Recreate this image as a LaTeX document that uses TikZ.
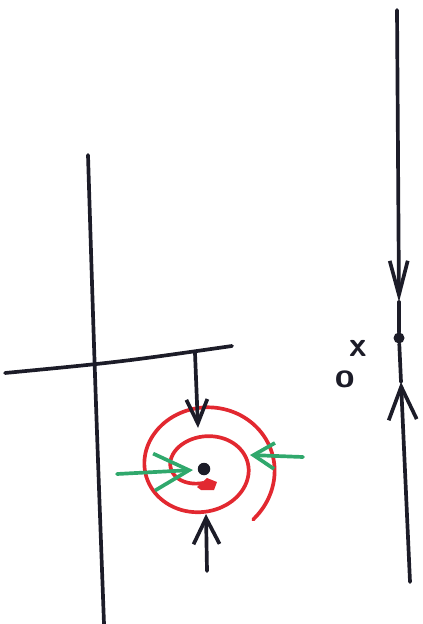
\documentclass[tikz,border=0pt]{standalone}
\usepackage{tikz}
\usetikzlibrary{arrows.meta}

\definecolor{penblack}{RGB}{28,28,40}
\definecolor{penred}{RGB}{226,40,48}
\definecolor{pengreen}{RGB}{48,168,108}

\begin{document}
\begin{tikzpicture}[x=0.02cm,y=-0.02cm,
    pen/.style={line width=2.1pt,line cap=round,line join=round,draw=penblack},
    redpen/.style={line width=2.1pt,line cap=round,draw=penred},
    greenpen/.style={line width=2.1pt,line cap=round,draw=pengreen},
    dot/.style={circle,fill=penblack,inner sep=0pt,minimum size=0.25cm},
    glyph/.style={text=penblack,font=\sffamily\bfseries\fontsize{20}{20}\selectfont,inner sep=0pt}]
  \useasboundingbox (0,0) rectangle (422,624);
  % axes of the phase plane, and the line of the 1D picture
  \coordinate (vtop) at (88,155);
  \coordinate (vbot) at (104,624);
  \coordinate (hleft) at (5,373);
  \coordinate (hright) at (232,346);
  \draw[pen] (vtop) .. controls (95,380) .. (vbot);
  \draw[pen] (hleft) .. controls (120,362) .. (hright);
  % spiral sink
  \draw[redpen] plot[domain=0:678,samples=160,smooth,variable=\s]
    ({203+(26+\s/360*26)*cos(270-\s)},{467-(16+\s/360*29)*sin(270-\s)});
  \fill[penred] (197,487) -- (207,478) -- (217,482) -- (214,490) -- (201,490) -- cycle;
  \node[dot] (fix) at (204,469) {};
  % incoming arrows
  \coordinate (ntop) at (195,353);
  \coordinate (ntip) at (198,428);
  \coordinate (sbot) at (207,571);
  \coordinate (stip) at (206,514);
  \draw[pen,-{Straight Barb[length=0.48cm,width=0.42cm,line width=2.1pt]}] (ntop) -- (ntip);
  \draw[pen,-{Straight Barb[length=0.52cm,width=0.52cm,line width=2.1pt]}] (sbot) -- (stip);
  \coordinate (wtail) at (117,474);
  \coordinate (wtip) at (193,470);
  \coordinate (etail) at (303,457);
  \coordinate (etip) at (250,455);
  \draw[greenpen,-{Straight Barb[length=0.7cm,width=0.74cm,line width=2.1pt]}] (wtail) -- (wtip);
  \draw[greenpen,-{Straight Barb[length=0.42cm,width=0.52cm,line width=2.1pt]}] (etail) -- (etip);
  % the line on the right
  \coordinate (rtop) at (397,10);
  \coordinate (rdn) at (399,302);
  \node[dot,minimum size=0.22cm] (rfix) at (399,338) {};
  \coordinate (rup) at (401,382);
  \coordinate (rbot) at (410,582);
  \draw[pen,-{Straight Barb[length=0.68cm,width=0.36cm,line width=2.1pt]}] (rtop) -- (rdn);
  \draw[pen] (rdn) -- (rfix);
  \draw[pen,-{Straight Barb[length=0.66cm,width=0.56cm,line width=2.1pt]}] (rbot) -- (rup);
  \draw[pen] (rup) -- (rfix);
  \node[glyph] (xlab) at (358,348) {x};
  \node[glyph] (olab) at (345,379) {o};
\end{tikzpicture}
\end{document}
